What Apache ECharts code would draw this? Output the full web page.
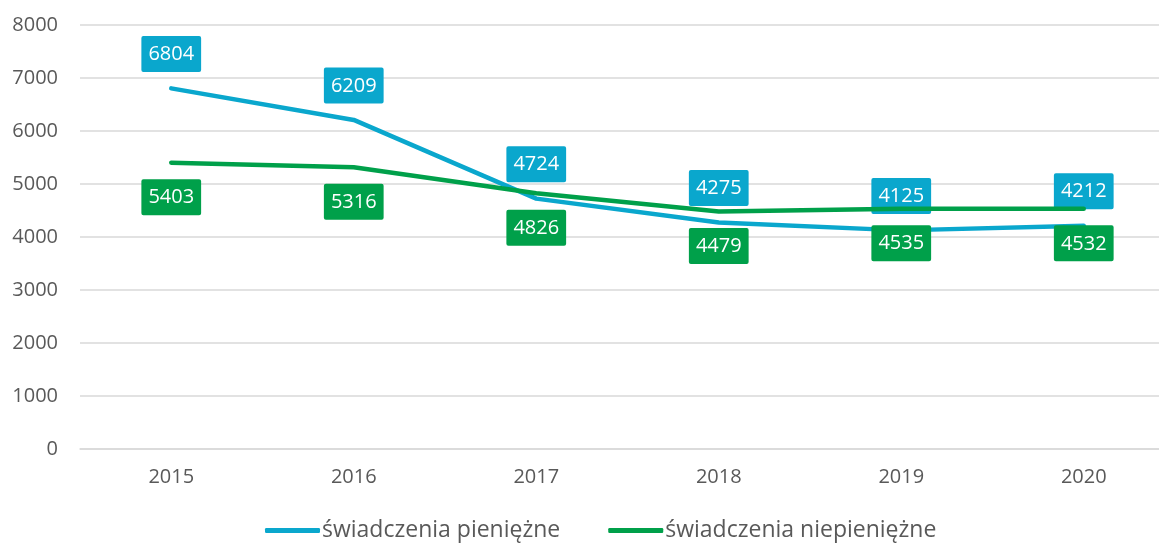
<html>
    <head>
        <meta charset="utf-8">
        <style>
            *{box-sizing: border-box;}
            body,html{
                margin:0;
                padding: 0;
                width: 100%;
                height: 100%;
                background: #fff;
                overflow: hidden;
            }
            #chart{
                width: 1175px;
                height: 547px;
            }
        </style>
        <script src="https://cdn.jsdelivr.net/npm/echarts@6/dist/echarts.min.js"></script>
    </head>
    <body>
        <div id="chart"></div>
        <script>
            var years = ["2015","2016","2017","2018","2019","2020"];
            var pieniezne = [6804, 6209, 4724, 4275, 4125, 4212];
            var niepieniezne = [5403, 5316, 4826, 4479, 4535, 4532];
            var yTicks = [0, 1000, 2000, 3000, 4000, 5000, 6000, 7000, 8000];

            var blue = "#0aa7cd";
            var green = "#00a04a";
            var font = "Open Sans";

            function boxLabel(color, pos){
                return {
                    show: true,
                    position: pos,
                    distance: 16,
                    color: "#fff",
                    fontFamily: font,
                    fontSize: 20,
                    lineHeight: 25,
                    backgroundColor: color,
                    borderColor: color,
                    borderWidth: 1,
                    borderRadius: 1,
                    padding: [5, 6, 4, 6]
                };
            }

            var chart = echarts.init(document.getElementById("chart"));
            chart.setOption({
                animation: false,
                grid: {
                    left: 80,
                    right: 0,
                    top: 25,
                    bottom: 98
                },
                legend: {
                    bottom: 0,
                    left: 260,
                    itemWidth: 55,
                    itemHeight: 5,
                    itemGap: 48,
                    icon: "roundRect",
                    textStyle: {
                        color: "#595959",
                        fontFamily: font,
                        fontSize: 23,
                        padding: [0, 0, 0, -3]
                    },
                    data: ["świadczenia pieniężne", "świadczenia niepieniężne"]
                },
                xAxis: {
                    type: "category",
                    data: years,
                    boundaryGap: true,
                    axisLine: {lineStyle: {color: "#d9d9d9", width: 1.5}},
                    axisTick: {show: false},
                    axisLabel: {
                        color: "#595959",
                        fontFamily: font,
                        fontSize: 20,
                        margin: 18
                    }
                },
                yAxis: {
                    type: "value",
                    min: yTicks[0],
                    max: yTicks[yTicks.length - 1],
                    interval: 1000,
                    axisLine: {show: false},
                    axisTick: {show: false},
                    splitLine: {lineStyle: {color: "#d9d9d9", width: 1.5}},
                    axisLabel: {
                        color: "#595959",
                        fontFamily: font,
                        fontSize: 20,
                        margin: 22,
                        formatter: function(v){ return String(v); }
                    }
                },
                series: [
                    {
                        name: "świadczenia pieniężne",
                        type: "line",
                        data: pieniezne,
                        symbol: "circle",
                        symbolSize: 3,
                        showSymbol: true,
                        itemStyle: {color: blue},
                        color: blue,
                        lineStyle: {width: 4.5, color: blue, cap: "round"},
                        label: boxLabel(blue, "top"),
                        z: 2
                    },
                    {
                        name: "świadczenia niepieniężne",
                        type: "line",
                        data: niepieniezne,
                        symbol: "circle",
                        symbolSize: 3,
                        showSymbol: true,
                        itemStyle: {color: green},
                        color: green,
                        lineStyle: {width: 4.5, color: green, cap: "round"},
                        label: boxLabel(green, "bottom"),
                        z: 3
                    }
                ]
            });
        </script>
    </body>
</html>
